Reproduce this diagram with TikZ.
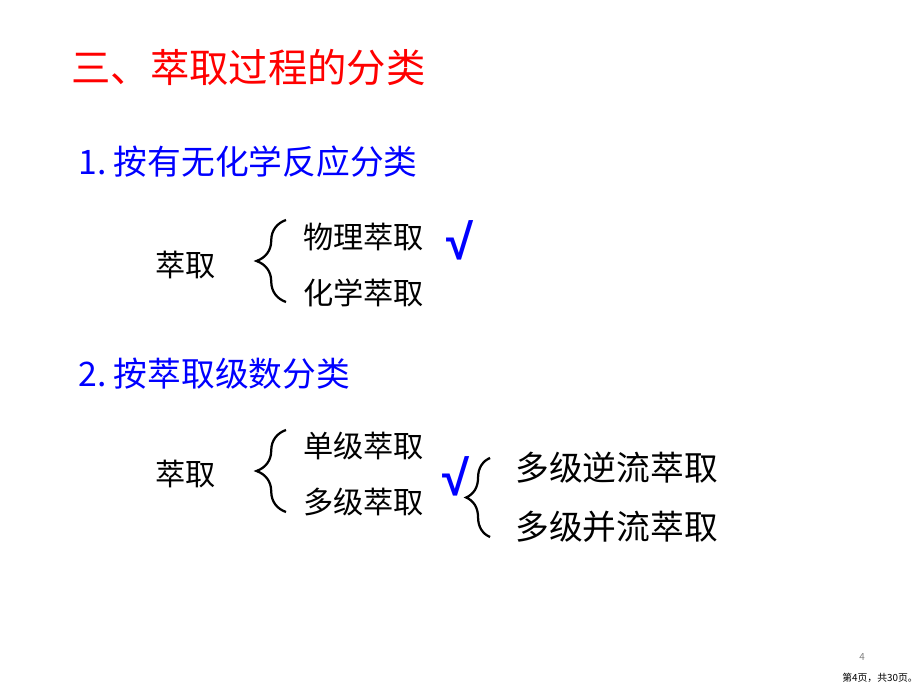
\documentclass[tikz,border=0pt]{standalone}
\usepackage{fontspec}
\newfontfamily\cjk{Noto Sans CJK SC}
\newfontfamily\tickfont{Liberation Sans}
\usetikzlibrary{decorations.pathreplacing}
\tikzset{
  title/.style={anchor=west,inner sep=0pt,text=red,font=\cjk\fontsize{28}{30}\selectfont},
  head/.style={anchor=west,inner sep=0pt,text=blue,font=\cjk\fontsize{24}{26}\selectfont},
  item/.style={anchor=west,inner sep=0pt,font=\cjk\fontsize{21.5}{23}\selectfont},
  subitem/.style={anchor=west,inner sep=0pt,font=\cjk\fontsize{24}{26}\selectfont},
  tick/.style={inner sep=0pt,text=blue,font=\tickfont\bfseries\fontsize{35}{37}\selectfont},
  curly/.style={decorate,decoration={brace,amplitude=#1},line width=1.6pt},
  foot/.style={inner sep=0pt,font=\cjk\fontsize{7}{8}\selectfont}
}
\begin{document}
\begin{tikzpicture}[x=0.025cm,y=0.025cm]
\useasboundingbox (0,0) rectangle (920,690);
%title
\node[title] (ttl) at (71,622) {三、萃取过程的分类};
%part 1
\node[head] (hA) at (78,528) {1.\ 按有无化学反应分类};
\node[item] (eA) at (155,425) {萃取};
\node[item] (phys) at (303,453) {物理萃取};
\node[item] (chem) at (303,397) {化学萃取};
\node[tick] (okA) at (460,450) {√};
\coordinate (bA1) at (286,388);
\coordinate (bA2) at (286,470);
\draw[curly=21pt] (bA1)--(bA2);
%part 2
\node[head] (hB) at (78,316) {2.\ 按萃取级数分类};
\node[item] (eB) at (155,216) {萃取};
\node[item] (single) at (303,244) {单级萃取};
\node[item] (multi) at (303,188) {多级萃取};
\node[tick] (okB) at (456,214) {√};
\coordinate (bB1) at (286,178);
\coordinate (bB2) at (286,260);
\draw[curly=21pt] (bB1)--(bB2);
\coordinate (bC1) at (490,153);
\coordinate (bC2) at (490,232);
\draw[curly=17pt] (bC1)--(bC2);
\node[subitem] (counter) at (515,222) {多级逆流萃取};
\node[subitem] (cocur) at (515,163) {多级并流萃取};
%footer
\node[foot,text=gray] (pg) at (862,33) {4};
\node[foot] (pgs) at (880,12) {第4页，共30页。};
\end{tikzpicture}
\end{document}
